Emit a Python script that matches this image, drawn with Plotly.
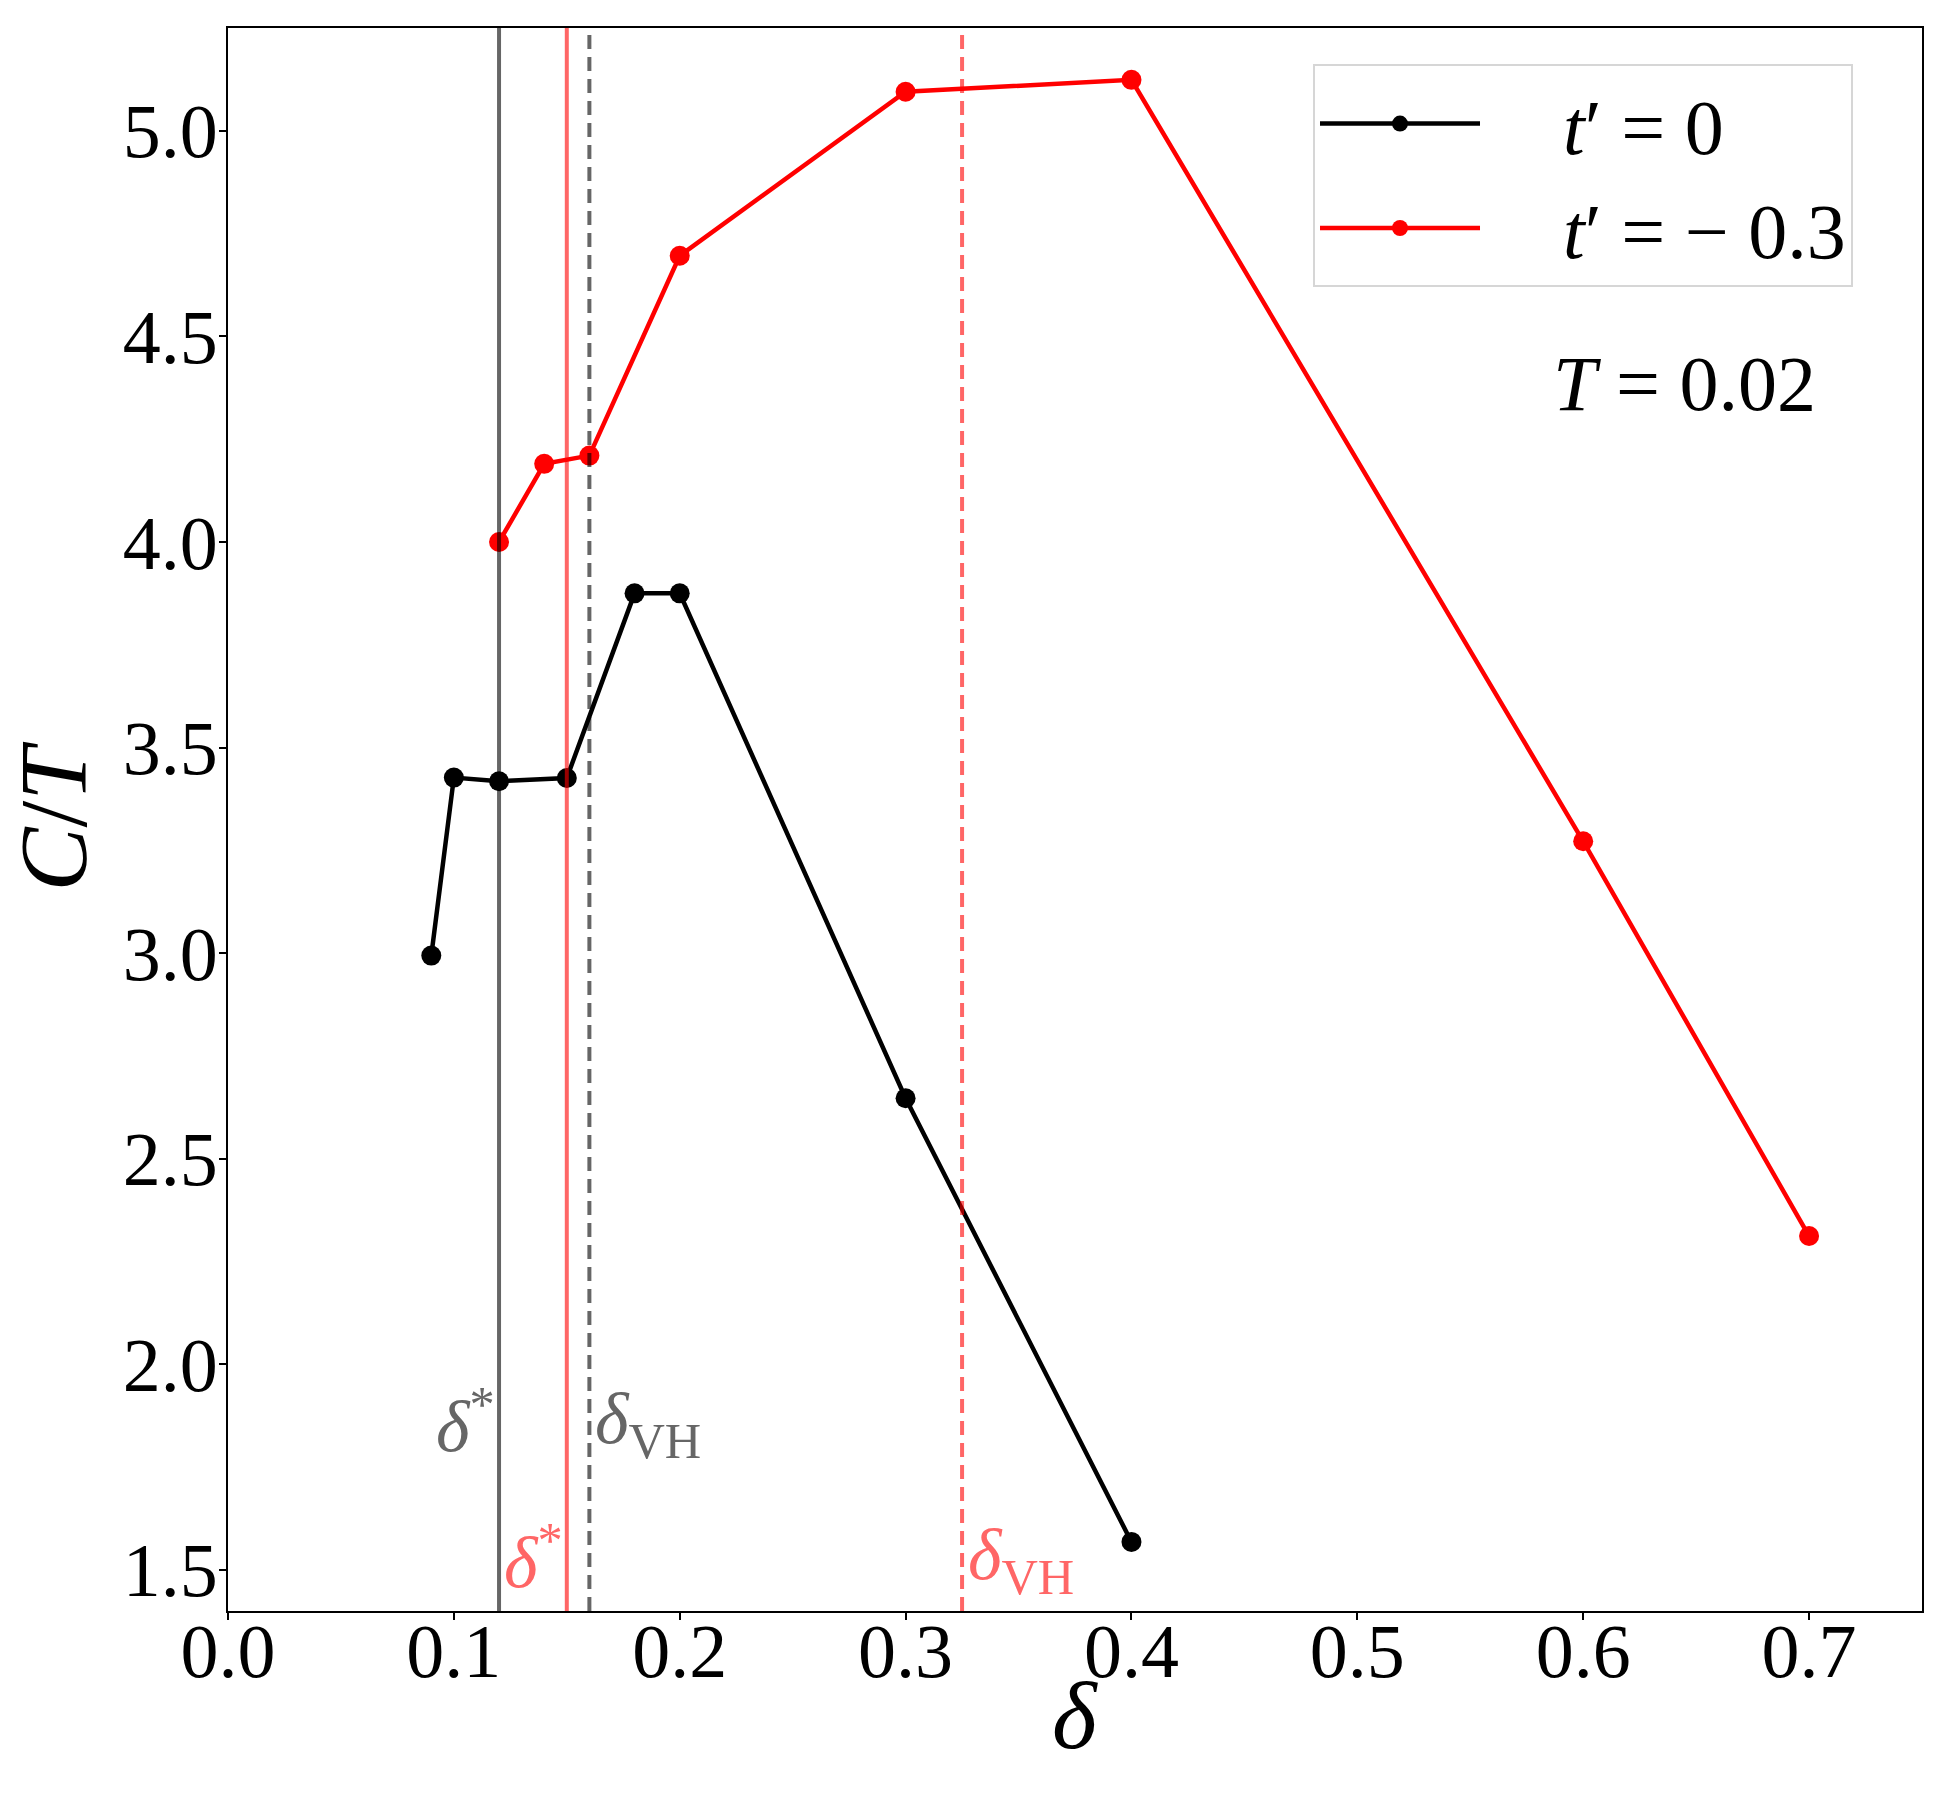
import plotly.graph_objects as go

# ---- data ----
delta_t0 = [0.09, 0.10, 0.12, 0.15, 0.18, 0.20, 0.30, 0.40]
ct_t0 = [2.994, 3.427, 3.418, 3.426, 3.875, 3.875, 2.647, 1.568]

delta_t03 = [0.12, 0.14, 0.16, 0.20, 0.30, 0.40, 0.60, 0.70]
ct_t03 = [4.000, 4.190, 4.210, 4.696, 5.095, 5.124, 3.272, 2.312]

delta_star_t0 = 0.12
delta_vh_t0 = 0.16
delta_star_t03 = 0.15
delta_vh_t03 = 0.325

x_ticks = [0.0, 0.1, 0.2, 0.3, 0.4, 0.5, 0.6, 0.7]
y_ticks = [1.5, 2.0, 2.5, 3.0, 3.5, 4.0, 4.5, 5.0]
x_range = [0.0, 0.75]
y_range = [1.40, 5.25]

FONT = "Liberation Serif"
GRAY = "rgba(0,0,0,0.6)"
LRED = "rgba(255,0,0,0.6)"
SP = "\u2002\u2002"

fig = go.Figure()
fig.add_trace(go.Scatter(
    x=delta_t0, y=ct_t0, mode="lines+markers", name=SP + "<i>t</i>′ = 0",
    line=dict(color="black", width=4.5), marker=dict(color="black", size=20)))
fig.add_trace(go.Scatter(
    x=delta_t03, y=ct_t03, mode="lines+markers", name=SP + "<i>t</i>′ = − 0.3",
    line=dict(color="red", width=4.5), marker=dict(color="red", size=20)))

# vertical reference lines
fig.add_vline(x=delta_star_t0, line=dict(color=GRAY, width=4), layer="above")
fig.add_vline(x=delta_vh_t0, line=dict(color=GRAY, width=4, dash="14px,8px"), layer="above")
fig.add_vline(x=delta_star_t03, line=dict(color=LRED, width=4), layer="above")
fig.add_vline(x=delta_vh_t03, line=dict(color=LRED, width=4, dash="14px,8px"), layer="above")

ann_font = 72
fig.add_annotation(x=delta_star_t0, y=1.86, xref="x", yref="y", xanchor="right", yanchor="middle",
                   text="<i>δ</i><sup>*</sup>", showarrow=False, xshift=-2,
                   font=dict(family=FONT, size=ann_font, color="#666666"))
fig.add_annotation(x=delta_vh_t0, y=1.855, xref="x", yref="y", xanchor="left", yanchor="middle",
                   text="<i>δ</i><sub>VH</sub>", showarrow=False, xshift=4,
                   font=dict(family=FONT, size=ann_font, color="#666666"))
fig.add_annotation(x=delta_star_t03, y=1.53, xref="x", yref="y", xanchor="right", yanchor="middle",
                   text="<i>δ</i><sup>*</sup>", showarrow=False, xshift=-2,
                   font=dict(family=FONT, size=ann_font, color="#ff6666"))
fig.add_annotation(x=delta_vh_t03, y=1.525, xref="x", yref="y", xanchor="left", yanchor="middle",
                   text="<i>δ</i><sub>VH</sub>", showarrow=False, xshift=4,
                   font=dict(family=FONT, size=ann_font, color="#ff6666"))
fig.add_annotation(x=0.645, y=4.385, xref="x", yref="y", xanchor="center", yanchor="middle",
                   text="<i>T</i> = 0.02", showarrow=False,
                   font=dict(family=FONT, size=78, color="black"))

# x-axis title (placed as paper-referenced text)
fig.add_annotation(x=0.5, y=-0.066, xref="paper", yref="paper", xanchor="center", yanchor="middle",
                   text="<i>δ</i>", showarrow=False,
                   font=dict(family=FONT, size=96, color="black"))

axis_common = dict(
    showline=True, linecolor="black", linewidth=2, mirror=True,
    ticks="outside", ticklen=7, tickwidth=2, tickcolor="black",
    showgrid=False, zeroline=False, automargin=False,
    tickfont=dict(family=FONT, size=76, color="black"),
)

fig.update_layout(
    width=1950, height=1800,
    margin=dict(l=228, r=28, t=28, b=189),
    paper_bgcolor="white", plot_bgcolor="white",
    showlegend=True,
    legend=dict(x=0.6405, y=0.977, xanchor="left", yanchor="top",
                bgcolor="rgba(255,255,255,0.8)", bordercolor="#d6d6d6", borderwidth=2,
                font=dict(family=FONT, size=78, color="black"),
                itemwidth=160, tracegroupgap=10),
    xaxis=dict(range=x_range, tickvals=x_ticks, ticktext=[f"{v:.1f}" for v in x_ticks],
               ticklabelstandoff=-34,
               **axis_common),
    yaxis=dict(range=y_range, tickvals=y_ticks, ticktext=[f"{v:.1f}" for v in y_ticks],
               ticklabelstandoff=-14,
               title=dict(text="<i>C</i>/<i>T</i>", font=dict(family=FONT, size=96, color="black")),
               **axis_common),
)

fig.write_html("out.html")
